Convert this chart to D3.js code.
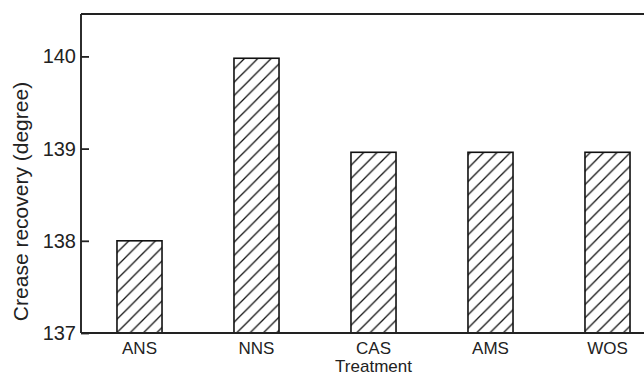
<!DOCTYPE html>
<html>
<head>
<meta charset="utf-8">
<script src="https://cdn.jsdelivr.net/npm/d3@7"></script>
<style>
  html, body { margin: 0; padding: 0; background: #fff; }
  svg { display: block; }
  text { font-family: "Liberation Sans", Arial, sans-serif; fill: #222; }
</style>
</head>
<body>
<svg id="chart" width="644" height="376"></svg>
<script>
// Crease recovery angle by treatment
const treatments = ["ANS", "NNS", "CAS", "AMS", "WOS"];
const recovery = [138.0, 139.98, 138.96, 138.96, 138.96];
const yTicks = [137, 138, 139, 140];

const W = 644, H = 376;
const plotLeft = 81, plotTop = 14, plotBottom = 333;
const step = 117;

const svg = d3.select("#chart");

const x = d3.scaleBand()
  .domain(treatments)
  .range([plotLeft, plotLeft + step * treatments.length])
  .paddingInner(0.615)
  .paddingOuter(0.3075);

const y = d3.scaleLinear()
  .domain([137, 140.46])
  .range([plotBottom, plotTop]);

// diagonal hatch fill
const hs = 13.33;
const defs = svg.append("defs");
const pat = defs.append("pattern")
  .attr("id", "hatch")
  .attr("patternUnits", "userSpaceOnUse")
  .attr("x", 9.7).attr("y", 0)
  .attr("width", hs).attr("height", hs);
pat.append("rect").attr("width", hs).attr("height", hs).attr("fill", "#fff");
pat.append("path")
  .attr("d", `M0,${hs} L${hs},0 M-2,2 L2,-2 M${hs - 2},${hs + 2} L${hs + 2},${hs - 2}`)
  .attr("stroke", "#111")
  .attr("stroke-width", 1.3);

// bars
svg.append("g")
  .selectAll("rect")
  .data(treatments)
  .join("rect")
  .attr("x", d => x(d))
  .attr("width", x.bandwidth())
  .attr("y", (d, i) => y(recovery[i]))
  .attr("height", (d, i) => plotBottom - y(recovery[i]))
  .attr("fill", "url(#hatch)")
  .attr("stroke", "#111")
  .attr("stroke-width", 1.6);

// top frame line
svg.append("line")
  .attr("x1", plotLeft).attr("x2", W)
  .attr("y1", plotTop).attr("y2", plotTop)
  .attr("stroke", "#222").attr("stroke-width", 1.9);

// y axis, ticks pointing into the plot
const yAxis = svg.append("g")
  .attr("transform", `translate(${plotLeft},0)`)
  .call(d3.axisLeft(y).tickValues(yTicks).tickSize(-8).tickPadding(5).tickFormat(d3.format("d")));
yAxis.select(".domain")
  .attr("d", `M0,${plotTop}V${plotBottom}`)
  .attr("stroke", "#222").attr("stroke-width", 1.9);
yAxis.selectAll(".tick line").attr("stroke", "#222").attr("stroke-width", 1.8);
yAxis.selectAll(".tick text")
  .attr("x", -5)
  .attr("font-size", 20)
  .attr("fill", "#222")
  .style("font-family", "'Liberation Sans', Arial, sans-serif");

// x axis
const xAxis = svg.append("g")
  .attr("transform", `translate(0,${plotBottom})`)
  .call(d3.axisBottom(x).tickSize(0).tickPadding(9));
xAxis.select(".domain")
  .attr("d", `M${plotLeft},0H${W}`)
  .attr("stroke", "#222").attr("stroke-width", 1.9);
xAxis.selectAll(".tick text")
  .attr("font-size", 17)
  .attr("fill", "#222")
  .style("font-family", "'Liberation Sans', Arial, sans-serif");

// axis titles
svg.append("text")
  .attr("x", x("CAS") + x.bandwidth() / 2)
  .attr("y", 372.3)
  .attr("text-anchor", "middle")
  .attr("font-size", 17)
  .text("Treatment");

svg.append("text")
  .attr("transform", `translate(28,${(plotTop + plotBottom) / 2 + 28}) rotate(-90)`)
  .attr("text-anchor", "middle")
  .attr("font-size", 21)
  .text("Crease recovery (degree)");
</script>
</body>
</html>
